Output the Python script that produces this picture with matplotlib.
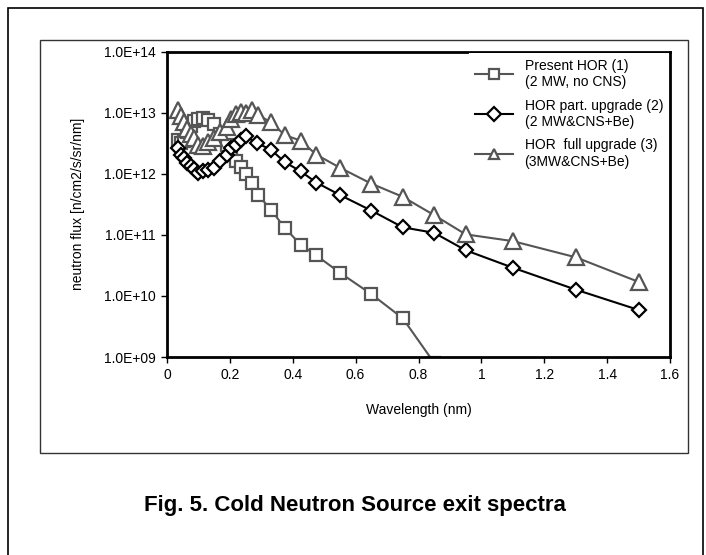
import matplotlib
matplotlib.use("Agg")
import matplotlib.pyplot as plt
from matplotlib.patches import Rectangle
from matplotlib.ticker import FixedLocator, FuncFormatter

plt.rcParams['font.family'] = ['Liberation Sans', 'DejaVu Sans']

# --- data ---
lam_1 = [0.035, 0.045, 0.055, 0.065, 0.075, 0.085, 0.10, 0.115, 0.13, 0.15,
         0.17, 0.19, 0.205, 0.22, 0.235, 0.25, 0.27, 0.29, 0.33, 0.375,
         0.425, 0.475, 0.55, 0.65, 0.75, 0.85]
flux_1 = [3.6e12, 3.2e12, 3.5e12, 4.8e12, 6.0e12, 7.2e12, 8.0e12, 8.2e12, 7.6e12, 6.5e12,
          4.5e12, 3.0e12, 2.0e12, 1.6e12, 1.3e12, 1.0e12, 7.0e11, 4.5e11, 2.6e11, 1.3e11,
          6.9e10, 4.6e10, 2.4e10, 1.07e10, 4.3e9, 8.0e8]

lam_2 = [0.035, 0.045, 0.055, 0.065, 0.075, 0.085, 0.10, 0.115, 0.13, 0.15,
         0.17, 0.19, 0.205, 0.22, 0.235, 0.25, 0.285, 0.33, 0.375, 0.425,
         0.475, 0.55, 0.65, 0.75, 0.85, 0.95, 1.1, 1.3, 1.5]
flux_2 = [2.6e12, 2.0e12, 1.8e12, 1.5e12, 1.35e12, 1.2e12, 1.02e12, 1.1e12, 1.15e12, 1.25e12,
          1.6e12, 2.0e12, 2.6e12, 3.0e12, 3.6e12, 4.1e12, 3.2e12, 2.5e12, 1.55e12, 1.1e12,
          7.2e11, 4.5e11, 2.5e11, 1.33e11, 1.08e11, 5.6e10, 2.9e10, 1.27e10, 5.9e9]

lam_3 = [0.035, 0.045, 0.055, 0.065, 0.075, 0.085, 0.10, 0.115, 0.13, 0.15,
         0.17, 0.19, 0.205, 0.22, 0.235, 0.25, 0.27, 0.29, 0.33, 0.375,
         0.425, 0.475, 0.55, 0.65, 0.75, 0.85, 0.95, 1.1, 1.3, 1.5]
flux_3 = [1.1e13, 9.0e12, 7.0e12, 5.5e12, 4.5e12, 3.8e12, 3.0e12, 2.9e12, 3.3e12, 3.8e12,
          4.8e12, 5.9e12, 8.0e12, 9.5e12, 1.02e13, 1.0e13, 1.1e13, 9.2e12, 7.0e12, 4.3e12,
          3.5e12, 2.06e12, 1.26e12, 6.9e11, 4.2e11, 2.1e11, 1.02e11, 7.9e10, 4.3e10, 1.7e10]

labels = ['Present HOR (1)\n(2 MW, no CNS)',
          'HOR part. upgrade (2)\n(2 MW&CNS+Be)',
          'HOR  full upgrade (3)\n(3MW&CNS+Be)']
x_ticks = [0, 0.2, 0.4, 0.6, 0.8, 1, 1.2, 1.4, 1.6]
y_ticks = [1e9, 1e10, 1e11, 1e12, 1e13, 1e14]

gray = '#555555'

fig = plt.figure(figsize=(7.06, 5.55), dpi=100)
W, H = 706, 555

# outer frame and chart box
fig.add_artist(Rectangle((8 / W, -0.1), (703 - 8) / W, 1.1 - 8 / H, transform=fig.transFigure,
                         fill=False, lw=1.2, ec='black'))
fig.add_artist(Rectangle((40 / W, 1 - 453 / H), (688 - 40) / W, (453 - 40) / H,
                         transform=fig.transFigure, fill=False, lw=1.0, ec='#333333'))

ax = fig.add_axes([167 / W, 1 - 357 / H, (670 - 167) / W, (357 - 51.7) / H])

ax.plot(lam_1, flux_1, color=gray, lw=1.5, marker='s', ms=9, mfc='white',
        mec=gray, mew=1.6, label=labels[0])
ax.plot(lam_2, flux_2, color='black', lw=1.5, marker='D', ms=7, mfc='white',
        mec='black', mew=1.6, label=labels[1])
ax.plot(lam_3, flux_3, color=gray, lw=1.5, marker='^', ms=11, mfc='white',
        mec=gray, mew=1.6, label=labels[2])

ax.set_yscale('log')
ax.set_xlim(0, 1.6)
ax.set_ylim(1e9, 1e14)
ax.xaxis.set_major_locator(FixedLocator(x_ticks))
ax.xaxis.set_major_formatter(FuncFormatter(lambda v, p: f'{v:g}'))
ax.yaxis.set_major_locator(FixedLocator(y_ticks))
ax.yaxis.set_minor_locator(FixedLocator([]))
ax.yaxis.set_major_formatter(FuncFormatter(lambda v, p: f'{v:.1E}'))

for s in ax.spines.values():
    s.set_linewidth(2.0)
ax.tick_params(direction='out', length=4, width=1, labelsize=10, pad=4)

ax.set_xlabel('Wavelength (nm)', fontsize=10, labelpad=15)
ax.set_ylabel('neutron flux [n/cm2/s/sr/nm]', fontsize=10, labelpad=14)

leg = ax.legend(loc='upper right', bbox_to_anchor=(1.0, 1.0), frameon=True, fancybox=False,
                edgecolor='white', framealpha=1.0, fontsize=10, handlelength=2.8,
                labelspacing=0.7, borderaxespad=0.1)
leg.get_frame().set_linewidth(0)
for h in leg.legend_handles:
    h.set_markersize(7)

fig.text(355 / W, 1 - 506 / H, 'Fig. 5. Cold Neutron Source exit spectra',
         ha='center', va='center', fontsize=16, fontweight='bold')

fig.savefig('out.png', dpi=100)
